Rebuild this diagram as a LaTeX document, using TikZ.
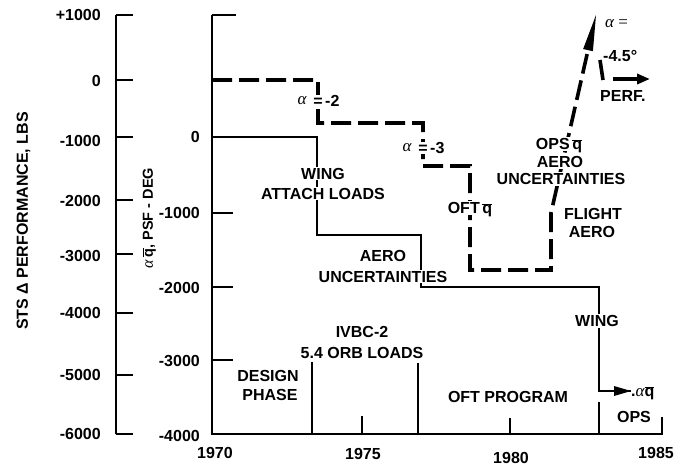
\documentclass[tikz,border=0pt]{standalone}
\usepackage{fontspec}
\setmainfont{Liberation Sans}
\newfontfamily\grkfont{Liberation Serif}
\usetikzlibrary{arrows.meta,calc}
\newcommand{\myqb}{$\overline{\mbox{q}}$}
\newcommand{\myal}{{\grkfont\mdseries\itshape α}}
\begin{document}
\begin{tikzpicture}[x=1pt,y=-1pt,
  axisline/.style={line width=2.2pt},
  tickline/.style={line width=2pt},
  solidstep/.style={line width=2.2pt},
  dashstep/.style={line width=3.6pt, dash pattern=on 20pt off 7pt},
  lab/.style={font=\bfseries\fontsize{16}{19}\selectfont, inner sep=1pt, text height=11.5pt, text depth=0pt},
  wlab/.style={lab, fill=white},
  tlab/.style={lab, anchor=east, inner sep=0pt},
  greek/.style={font=\grkfont\itshape\fontsize{17}{19}\selectfont, inner sep=0pt}
]
\useasboundingbox (0,0) rectangle (675,467);

% ---------- left axis (performance) ----------
\coordinate (la0) at (116,15);
\coordinate (la1) at (116,434);
\draw[axisline] (la0) -- (la1);
\foreach \y/\t/\ly [count=\i] in {15/+1000/15, 80/0/81, 137/-1000/141, 200/-2000/201, 254/-3000/256, 313/-4000/313, 375/-5000/375, 434/-6000/434} {
  \draw[tickline] (116,\y) -- (133,\y);
  \node[tlab] (ll\i) at (101,\ly) {\t};
}
\node[lab, rotate=90] (ltitle) at (22,221) {STS Δ PERFORMANCE, LBS};
\node[lab, rotate=90, font=\bfseries\fontsize{14.5}{16}\selectfont] (mtitle) at (147,218) {{\fontsize{16}{16}\selectfont\myal}\,\myqb, PSF - DEG};

% ---------- right axis (alpha q) and time axis ----------
\coordinate (ra0) at (212,15);
\coordinate (ra1) at (212,434);
\coordinate (ba1) at (662,434);
\coordinate (ba2) at (662,417);
\draw[axisline, line join=miter] (ra0) -- (ra1) -- (ba1) -- (ba2);
\draw[tickline] (212,15) -- (236,15);
\foreach \y in {213,287,360} { \draw[tickline] (212,\y) -- (233,\y); }
\foreach \y/\t/\ly [count=\i] in {137/0/137, 213/-1000/213, 287/-2000/288, 360/-3000/361, 434/-4000/436} {
  \node[tlab] (rl\i) at (200,\ly) {\t};
}
% time ticks
\draw[tickline] (362,416) -- (362,434);
\draw[tickline] (510,418) -- (510,434);
\draw[tickline] (312,362) -- (312,434);
\draw[tickline] (418,363) -- (418,434);
\draw[tickline] (599,402) -- (599,434);
\node[lab] (y1970) at (215,453) {1970};
\node[lab] (y1975) at (363,454) {1975};
\node[lab] (y1980) at (511,458) {1980};
\node[lab] (y1985) at (656,453) {1985};

% ---------- solid step line (alpha q) ----------
\coordinate (s0) at (212,137);
\coordinate (s1) at (317,137);
\coordinate (s2) at (317,235);
\coordinate (s3) at (421,235);
\coordinate (s4) at (421,287);
\coordinate (s5) at (599,287);
\coordinate (s6) at (599,391);
\coordinate (s7) at (631,391);
\draw[solidstep, line join=miter] (s0) -- (s1) -- (s2) -- (s3) -- (s4) -- (s5) -- (s6)
  -- (s7);
\fill (s7) ++(-17,-5) -- (s7) -- ++(-17,5) -- cycle;

% ---------- dashed step line (performance) ----------
\coordinate (d0) at (212,80);
\coordinate (d1) at (318,80);
\coordinate (d2) at (318,123);
\coordinate (d3) at (423,123);
\coordinate (d4) at (423,166);
\coordinate (d5) at (470,166);
\coordinate (d6) at (470,270);
\coordinate (d7) at (551,270);
\coordinate (d8) at (551,213);
\coordinate (tip) at (596,15);
\coordinate (ab) at ($(tip)!36pt!(d8)$);
\draw[dashstep] (d0) -- (d1) -- (d2) -- (d3) -- (d4) -- (d5) -- (d6) -- (d7) -- (d8) -- (ab);
\fill ($(ab)!5pt!90:(tip)$) -- (tip) -- ($(ab)!5pt!-90:(tip)$) -- cycle;

% small marker and PERF arrow
\coordinate (m0) at (600,60);
\coordinate (m1) at (603,80);
\draw[line width=3.6pt] (m0) -- (m1);
\coordinate (p0) at (613,79);
\coordinate (p1) at (650,79);
\draw[line width=3.6pt, -{Triangle[length=13pt,width=10pt]}] (p0) -- (p1);

% ---------- labels ----------
\node[greek] (a2) at (302,101) {α};
\node[wlab, inner sep=0.5pt] (e2) at (318,101) {=};
\node[lab, anchor=west, inner sep=0pt] (v2) at (325,101) {-2};

\node[greek] (a3) at (407,148) {α};
\node[wlab, inner sep=0.5pt] (e3) at (423,148) {=};
\node[lab, anchor=west, inner sep=0pt] (v3) at (430,148) {-3};

\node[greek, anchor=west] (a45) at (605,24) {α {\upshape =}};
\node[lab, anchor=west, inner sep=0pt] (v45) at (603,56) {-4.5°};
\node[lab, anchor=west, inner sep=0pt] (perf) at (600,96) {PERF.};

\node[wlab] (wing1) at (323,173.5) {WING};
\node[wlab] (wing2) at (323,193.5) {ATTACH LOADS};
\node[wlab] (aero1) at (383,256) {AERO};
\node[wlab] (aero2) at (383,276.5) {UNCERTAINTIES};
\node[wlab] (oft) at (470,208) {OFT\,\myqb};
\node[wlab] (ops1) at (559,144) {OPS\,\myqb};
\node[wlab] (ops2) at (560,162) {AERO};
\node[wlab] (ops3) at (561,179) {UNCERTAINTIES};
\node[lab] (fl1) at (593,214) {FLIGHT};
\node[lab] (fl2) at (592,232) {AERO};
\node[wlab] (wing3) at (597,321) {WING};
\node[lab, anchor=west, inner sep=0pt] (aq) at (631,391) {.{\fontsize{17}{17}\selectfont\myal}\myqb};

\node[lab] (ivbc1) at (362,331.5) {IVBC-2};
\node[lab] (ivbc2) at (362,353) {5.4 ORB LOADS};
\node[lab] (des1) at (268,376) {DESIGN};
\node[lab] (des2) at (270,394.5) {PHASE};
\node[lab] (oftp) at (508,396.5) {OFT PROGRAM};
\node[lab] (opsl) at (634,416.5) {OPS};
\end{tikzpicture}
\end{document}
